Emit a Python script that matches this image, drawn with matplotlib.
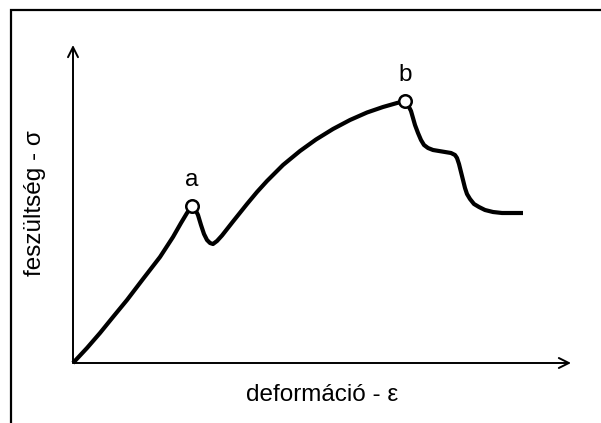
import numpy as np
import matplotlib.pyplot as plt

plt.rcParams['font.family'] = ['Liberation Sans', 'DejaVu Sans']

# görbe pontjai (deformáció, feszültség) - önkényes egységek
eps = [0, 14, 27, 40, 54, 70, 87, 100, 108, 114, 119,
       122, 125, 128, 131, 134, 137, 140, 144, 149, 160, 174, 184, 194,
       210, 227, 243, 260, 277, 294, 310, 324, 332,
       335, 338, 340, 342, 345, 348, 351, 355, 360, 366, 372, 378, 382,
       384, 386, 388, 390, 392, 394, 397, 401, 406, 412, 420, 429, 450]
sig = [0, 15, 30, 46, 63, 84, 106, 126, 140, 150, 157,
       154, 148, 138, 129, 123, 120, 119, 122, 127.5, 141.5, 159, 171, 182,
       198, 212, 223.5, 234, 243, 250.5, 256, 260, 262,
       258, 252, 245, 238, 230, 223, 218, 215, 213, 212, 211, 210, 208,
       205, 199, 191, 183, 175, 169, 164, 159, 156, 153, 151, 150, 150]

pont_nev = ['a', 'b']
pont_eps = [119, 332]
pont_sig = [157, 262]

fig = plt.figure(figsize=(6.01, 4.23), dpi=100)
ax = fig.add_axes([0, 0, 1, 1])
ax.set_xlim(-73, 528)
ax.set_ylim(-60, 363)
ax.axis('off')

# keret (bal és felső oldal)
ax.plot([-62, -62, 530], [-70, 353, 353], color='black', lw=1.6,
        clip_on=False, solid_joinstyle='miter')

# tengelyek nyíllal
for cel in [(0, 318), (498, 0)]:
    ax.annotate('', xy=cel, xytext=(0, 0),
                arrowprops=dict(arrowstyle='->', lw=1.4, color='black',
                                mutation_scale=18, shrinkA=0, shrinkB=0))

ax.plot(eps, sig, color='black', lw=3.0, solid_joinstyle='round',
        solid_capstyle='butt')
ax.plot(pont_eps, pont_sig, 'o', ms=9, mfc='white', mec='black', mew=1.8)

for n, x, y in zip(pont_nev, pont_eps, pont_sig):
    ax.text(x, y + 15, n, fontsize=17.5, ha='center', va='bottom')

ax.text(249, -32, 'deformáció - ε', fontsize=17.5, ha='center', va='center')
ax.text(-38, 160, 'feszültség - σ', fontsize=17.5, ha='center', va='center',
        rotation=90)

fig.savefig('out.png', dpi=100)
